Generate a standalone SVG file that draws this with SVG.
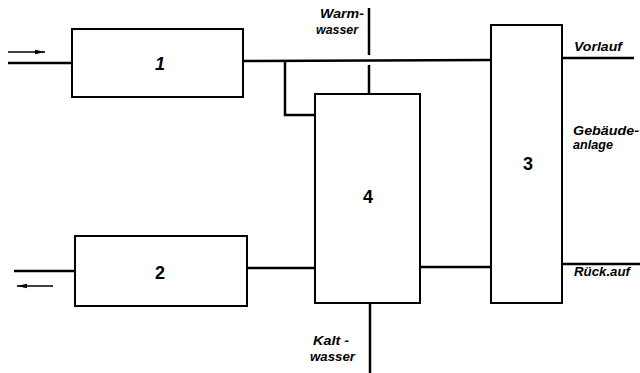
<svg xmlns="http://www.w3.org/2000/svg" width="640" height="373" viewBox="0 0 640 373">
<style>
.box{fill:#fff;stroke:#000;stroke-width:2}
.ln{fill:none;stroke:#000;stroke-width:2.5}
.thin{fill:none;stroke:#000;stroke-width:1.5}
.num{font-family:"Liberation Sans",Arial,sans-serif;font-weight:bold;font-size:18px;text-anchor:middle}
.lbl{font-family:"Liberation Sans",Arial,sans-serif;font-weight:bold;font-style:italic;font-size:12px}
</style>
<defs>
<marker id="ah" viewBox="0 0 10 6" refX="10" refY="3" markerWidth="10" markerHeight="6" markerUnits="userSpaceOnUse" orient="auto">
<path d="M0,0.8 L10,3 L0,5.2 Z" fill="#000"/>
</marker>
</defs>
<rect width="640" height="373" fill="#fff"/>
<g id="connectors">
<line class="ln" x1="8" y1="63" x2="72" y2="63"/>
<line class="thin" x1="8" y1="52" x2="45" y2="52" marker-end="url(#ah)"/>
<polyline class="ln" points="243,61 491,60"/>
<polyline class="ln" points="285,61 285,115 315,115"/>
<line class="ln" x1="369" y1="8" x2="369" y2="55"/>
<line class="ln" x1="369" y1="65" x2="369" y2="94"/>
<line class="ln" x1="370" y1="303" x2="370" y2="373"/>
<line class="ln" x1="562" y1="58" x2="634" y2="58"/>
<line class="ln" x1="563" y1="264" x2="640" y2="264"/>
<line class="ln" x1="420" y1="267" x2="491" y2="267"/>
<line class="ln" x1="14" y1="271" x2="75" y2="271"/>
<line class="thin" x1="53" y1="286" x2="17" y2="286" marker-end="url(#ah)"/>
<line class="ln" x1="247" y1="268" x2="315" y2="268"/>
</g>
<g id="node1"><rect class="box" x="72" y="29" width="171" height="68"/><text class="num" x="160" y="70" font-style="italic">1</text></g>
<g id="node2"><rect class="box" x="75" y="236" width="172" height="70"/><text class="num" x="160" y="279">2</text></g>
<g id="node3"><rect class="box" x="491" y="25" width="71" height="278"/><text class="num" x="528" y="170">3</text></g>
<g id="node4"><rect class="box" x="315" y="94" width="105" height="209"/><text class="num" x="368" y="203">4</text></g>
<g id="labels">
<text class="lbl" x="320" y="18" textLength="44" lengthAdjust="spacingAndGlyphs">Warm-</text>
<text class="lbl" x="316" y="34" textLength="42" lengthAdjust="spacingAndGlyphs">wasser</text>
<text class="lbl" x="574" y="51" textLength="48" lengthAdjust="spacingAndGlyphs">Vorlauf</text>
<text class="lbl" x="573" y="135" textLength="66" lengthAdjust="spacingAndGlyphs">Gebäude-</text>
<text class="lbl" x="573" y="149" textLength="40" lengthAdjust="spacingAndGlyphs">anlage</text>
<text class="lbl" x="574" y="276" textLength="56" lengthAdjust="spacingAndGlyphs">Rück.auf</text>
<text class="lbl" x="313" y="345" textLength="36" lengthAdjust="spacingAndGlyphs">Kalt -</text>
<text class="lbl" x="310" y="361" textLength="45" lengthAdjust="spacingAndGlyphs">wasser</text>
</g>
</svg>
